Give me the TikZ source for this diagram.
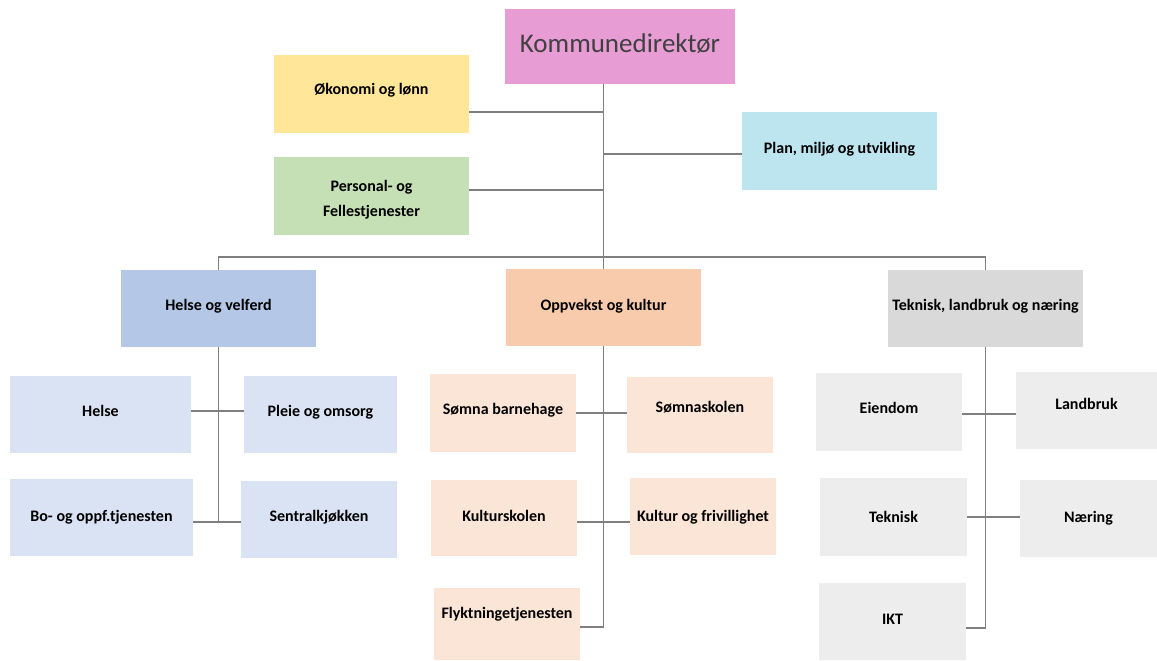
\documentclass[tikz,border=0pt]{standalone}
\usepackage{fontspec}
\setmainfont{Carlito}
\definecolor{kdfill}{HTML}{E79CD4}
\definecolor{kdtext}{HTML}{404040}
\definecolor{okfill}{HTML}{FFE699}
\definecolor{pffill}{HTML}{C5E0B4}
\definecolor{plfill}{HTML}{BDE5F0}
\definecolor{hvfill}{HTML}{B4C7E7}
\definecolor{ovfill}{HTML}{F8CBAD}
\definecolor{tkfill}{HTML}{D9D9D9}
\definecolor{hvsub}{HTML}{DAE3F3}
\definecolor{ovsub}{HTML}{FBE5D6}
\definecolor{tksub}{HTML}{EDEDED}
\definecolor{linegray}{HTML}{7F7F7F}
\newcommand\bx[8]{%
  \node[box, fill=#6, minimum width={#4-#2}, minimum height={#5-#3}] (#1) at ({(#2+#4)/2},{(#3+#5)/2}) {};
  \node[lbl] (#1-t) at ({(#2+#4)/2},{#7+5}) {#8};}
\begin{document}
\begin{tikzpicture}[x=1pt,y=-1pt,
  box/.style={rectangle, draw=none, inner sep=0pt},
  lbl/.style={font=\fontsize{16}{19}\bfseries\selectfont, anchor=base, inner sep=0pt},
  con/.style={draw=linegray, line width=1.2pt}]
\useasboundingbox (0,0) rectangle (1157,661);
% top
\node[box, fill=kdfill, minimum width=230, minimum height=75] (kd) at (620,46.5) {};
\node[font=\fontsize{27}{32}\selectfont, text=kdtext, anchor=base, inner sep=0pt] (kd-t) at (620,53) {Kommunedirektør};
\bx{ok}{274}{55}{469}{133}{okfill}{90}{Økonomi og lønn}
\bx{pl}{742}{112}{937}{190}{plfill}{148}{Plan, miljø og utvikling}
\node[box, fill=pffill, minimum width=195, minimum height=78] (pf) at (371.5,196) {};
\node[font=\fontsize{16}{25}\bfseries\selectfont, align=center, inner sep=0pt] (pf-t) at (371.5,199.5) {Personal- og\\Fellestjenester};
% level 2
\bx{hv}{121}{270}{316}{347}{hvfill}{305}{Helse og velferd}
\bx{ov}{506}{269}{701}{346}{ovfill}{305}{Oppvekst og kultur}
\bx{tk}{888}{270}{1083}{347}{tkfill}{305}{Teknisk, landbruk og næring}
% helse children
\bx{h1}{10}{376}{191}{453}{hvsub}{411}{Helse}
\bx{h2}{244}{376}{397}{453}{hvsub}{411}{Pleie og omsorg}
\bx{h3}{10}{479}{193}{556}{hvsub}{516}{Bo- og oppf.tjenesten}
\bx{h4}{241}{481}{397}{558}{hvsub}{516}{Sentralkjøkken}
% oppvekst children
\bx{o1}{430}{374}{576}{452}{ovsub}{409}{Sømna barnehage}
\bx{o2}{627}{377}{773}{453}{ovsub}{407}{Sømnaskolen}
\bx{o3}{431}{480}{577}{556}{ovsub}{516}{Kulturskolen}
\bx{o4}{630}{478}{776}{555}{ovsub}{516}{Kultur og frivillighet}
\bx{o5}{434}{588}{580}{660}{ovsub}{613}{Flyktningetjenesten}
% teknisk children
\bx{t1}{816}{373}{962}{451}{tksub}{408}{Eiendom}
\bx{t2}{1016}{372}{1157}{449}{tksub}{404}{Landbruk}
\bx{t3}{820}{478}{967}{556}{tksub}{517}{Teknisk}
\bx{t4}{1020}{480}{1157}{557}{tksub}{517}{Næring}
\bx{t5}{819}{583}{966}{660}{tksub}{619}{IKT}
% connector levels
\coordinate (cyok) at (0,112);
\coordinate (cypl) at (0,154);
\coordinate (cypf) at (0,190);
\coordinate (bus) at (0,257);
\coordinate (h1y) at (0,411);
\coordinate (h2y) at (0,522);
\coordinate (o1y) at (0,413);
\coordinate (o2y) at (0,522);
\coordinate (o3y) at (0,627);
\coordinate (t1y) at (0,414);
\coordinate (t2y) at (0,517);
\coordinate (t3y) at (0,628);
% connectors
\draw[con] (kd.south -| ov.north) -- (ov.north);
\draw[con] (ok.east |- cyok) -- (ov.north |- cyok);
\draw[con] (pl.west |- cypl) -- (ov.north |- cypl);
\draw[con] (pf.east |- cypf) -- (ov.north |- cypf);
\draw[con] (hv.north) -- (hv.north |- bus) -- (tk.north |- bus) -- (tk.north);
\draw[con] (hv.south) -- (hv.south |- h2y);
\draw[con] (h1.east |- h1y) -- (h2.west |- h1y);
\draw[con] (h3.east |- h2y) -- (h4.west |- h2y);
\draw[con] (ov.south) -- (ov.south |- o3y) -- (o5.east |- o3y);
\draw[con] (o1.east |- o1y) -- (o2.west |- o1y);
\draw[con] (o3.east |- o2y) -- (o4.west |- o2y);
\draw[con] (tk.south) -- (tk.south |- t3y) -- (t5.east |- t3y);
\draw[con] (t1.east |- t1y) -- (t2.west |- t1y);
\draw[con] (t3.east |- t2y) -- (t4.west |- t2y);
\end{tikzpicture}
\end{document}
